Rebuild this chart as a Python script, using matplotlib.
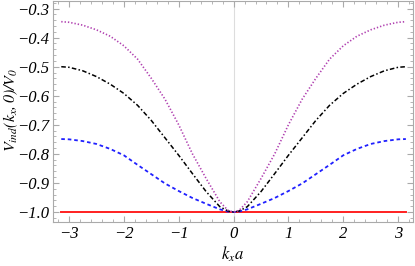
import numpy as np
import matplotlib.pyplot as plt
from matplotlib.ticker import MultipleLocator, FuncFormatter

# half-range samples (curves are symmetric in kx)
k_half = [0.0, 0.1, 0.25, 0.5, 0.75, 1.0, 1.25, 1.5, 1.75, 2.0, 2.25, 2.5, 2.75, 3.0, np.pi]
v_purple = [-1.0, -0.995, -0.965, -0.885, -0.80, -0.70, -0.612, -0.54, -0.474, -0.428,
            -0.395, -0.373, -0.357, -0.347, -0.345]
v_black = [-1.0, -0.997, -0.982, -0.93, -0.868, -0.805, -0.745, -0.685, -0.633, -0.592,
           -0.56, -0.534, -0.514, -0.502, -0.5]
v_blue = [-1.0, -0.999, -0.991, -0.972, -0.952, -0.928, -0.902, -0.87, -0.838, -0.805,
          -0.783, -0.766, -0.756, -0.75, -0.749]
v_red = [-1.0] * len(k_half)


def mirror(vals, neg=False):
    vals = list(vals)
    if neg:
        return [-v for v in vals[:0:-1]] + vals
    return vals[:0:-1] + vals


kx = mirror(k_half, neg=True)

plt.rcParams['font.family'] = 'serif'
plt.rcParams['font.serif'] = ['Liberation Serif']
plt.rcParams['font.style'] = 'italic'
plt.rcParams['mathtext.fontset'] = 'stix'

fig = plt.figure(figsize=(4.15, 2.66), dpi=100)
ax = fig.add_axes([0.128, 0.165, 0.867, 0.831])

ax.axvline(0, color='#dddddd', lw=0.8, zorder=0)
ax.plot(kx, mirror(v_red), color='#ff2020', lw=1.4)
ax.plot(kx, mirror(v_blue), color='#2020ff', lw=1.3, ls=(0, (2, 1.6)))
ax.plot(kx, mirror(v_black), color='black', lw=1.1, ls=(0, (3, 1.5, 1, 1.5)))
ax.plot(kx, mirror(v_purple), color='#b040b0', lw=1.2, ls=(0, (0.8, 1.2)))

ax.set_xlim(-3.29, 3.27)
ax.set_ylim(-1.035, -0.274)
ax.xaxis.set_major_locator(MultipleLocator(1))
ax.xaxis.set_minor_locator(MultipleLocator(0.2))
ax.yaxis.set_major_locator(MultipleLocator(0.1))
ax.yaxis.set_minor_locator(MultipleLocator(0.02))
ax.xaxis.set_major_formatter(FuncFormatter(lambda v, p: f"{v:.0f}".replace('-', '\u2212')))
ax.yaxis.set_major_formatter(FuncFormatter(lambda v, p: f"{v:.1f}".replace('-', '\u2212')))

for s in ax.spines.values():
    s.set_color('#aaaaaa')
    s.set_linewidth(0.8)
ax.tick_params(which='both', direction='in', top=True, right=True, color='#aaaaaa',
               labelsize=12, pad=3)
ax.tick_params(which='major', length=4)
ax.tick_params(which='minor', length=2)

ax.set_xlabel(r'$k_x a$', fontsize=12, labelpad=2)
ax.set_ylabel(r'$V_{ind}(k_x,0)/V_0$', fontsize=11.5)
ax.yaxis.set_label_coords(-0.092, 0.51)

fig.savefig('out.png', dpi=100)
